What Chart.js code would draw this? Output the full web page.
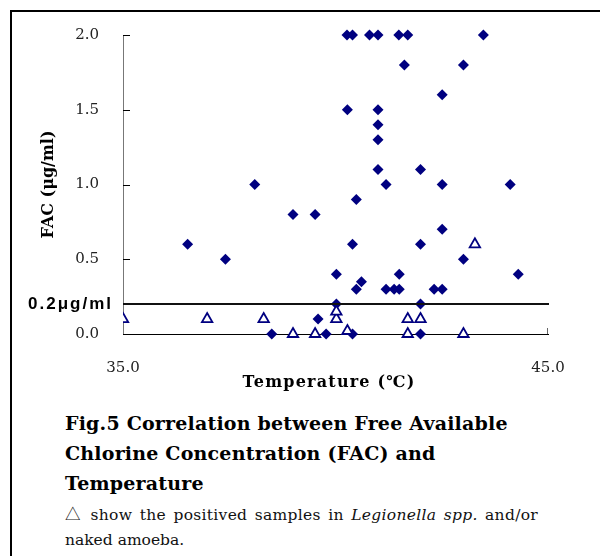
<!DOCTYPE html>
<html>
<head>
<meta charset="utf-8">
<script src="https://cdn.jsdelivr.net/npm/chart.js@4.4.1/dist/chart.umd.min.js"></script>
<style>
  body { margin: 0; background: #fff; }
  #page { position: relative; width: 600px; height: 556px; overflow: hidden; }
  #frame { position: absolute; left: 10px; top: 10px; right: -10px; bottom: -10px;
           border-left: 2px solid #000; border-top: 2px solid #000; }
  #c { position: absolute; left: 0; top: 0; }
  .cap { position: absolute; left: 65px; font-family: 'DejaVu Serif', serif; color: #000; white-space: nowrap; }
  .bold { font-weight: bold; font-size: 19px; line-height: 22px; letter-spacing: 0.2px; }
  .note { font-size: 15.5px; line-height: 18px; color: #111; }
  .just { width: 473px; white-space: normal; text-align: justify; text-align-last: justify; letter-spacing: 0.3px; }
  .tri { font-family: 'Noto Sans CJK JP', sans-serif; }
</style>
</head>
<body>
<div id="page">
  <div id="frame"></div>
  <canvas id="c" width="600" height="400"></canvas>
  <div class="cap bold" style="top:412px">Fig.5 Correlation between Free Available</div>
  <div class="cap bold" style="top:442px">Chlorine Concentration (FAC) and</div>
  <div class="cap bold" style="top:472px">Temperature</div>
  <div class="cap note just" style="top:504px"><span class="tri">△</span> show the positived samples in <i>Legionella spp.</i> and/or</div>
  <div class="cap note" style="top:531px">naked amoeba.</div>
</div>
<script>
//.. samples without Legionella / amoeba (filled diamonds)
const negTemp = [40.27, 40.40, 40.80, 41.00, 41.49, 41.70, 43.48,
                 41.62, 43.01, 42.51, 40.28, 41.00, 41.00, 41.00, 41.00, 42.00,
                 38.10, 41.19, 42.51, 44.11, 40.49, 39.00, 39.52, 42.51,
                 36.52, 40.40, 42.00, 37.41, 43.01, 40.02, 41.50, 44.30, 40.61,
                 40.49, 41.19, 41.38, 41.50, 42.32, 42.51, 40.02, 42.00, 39.59,
                 38.50, 39.78, 40.40, 42.00];
const negFac = [2.0, 2.0, 2.0, 2.0, 2.0, 2.0, 2.0,
                1.8, 1.8, 1.6, 1.5, 1.5, 1.4, 1.3, 1.1, 1.1,
                1.0, 1.0, 1.0, 1.0, 0.9, 0.8, 0.8, 0.7,
                0.6, 0.6, 0.6, 0.5, 0.5, 0.4, 0.4, 0.4, 0.35,
                0.3, 0.3, 0.3, 0.3, 0.3, 0.3, 0.2, 0.2, 0.1,
                0.0, 0.0, 0.0, 0.0];

//.. positive samples (open triangles)
const posTemp = [35.00, 36.98, 38.31, 40.02, 41.70, 42.00, 40.02, 39.00, 39.52, 41.70, 43.01, 40.28, 43.28];
const posFac  = [0.1, 0.1, 0.1, 0.1, 0.1, 0.1, 0.15, 0.0, 0.0, 0.0, 0.0, 0.02, 0.6];

const xTicks = [35, 45];
const yTicks = [0, 0.5, 1.0, 1.5, 2.0];
const limitValue = 0.2;
const limitLabel = '0.2μg/ml';
const xTitle = 'Temperature (℃)';

function toPoints(xs, ys) {
    return xs.map(function (x, i) { return {x: x, y: ys[i]}; });
}

//.. draws the 0.2 line, its label, the x title and the inward tick marks
const extras = {
    id: 'extras',
    afterDatasetsDraw: function (chart) {
        const ctx = chart.ctx;
        const xs = chart.scales.x, ys = chart.scales.y;
        const area = chart.chartArea;
        ctx.save();
        ctx.strokeStyle = '#000';
        ctx.lineWidth = 1;
        yTicks.forEach(function (v) {
            const py = Math.round(ys.getPixelForValue(v)) + 0.5;
            ctx.beginPath();
            ctx.moveTo(area.left, py);
            ctx.lineTo(area.left + 7, py);
            ctx.stroke();
        });
        const px = Math.round(xs.getPixelForValue(xTicks[1])) - 0.5;
        ctx.strokeStyle = '#666';
        ctx.beginPath();
        ctx.moveTo(px, area.bottom);
        ctx.lineTo(px, area.bottom - 6);
        ctx.stroke();

        const ly = ys.getPixelForValue(limitValue);
        ctx.strokeStyle = '#111';
        ctx.lineWidth = 2;
        ctx.beginPath();
        ctx.moveTo(area.left, ly);
        ctx.lineTo(area.right + 1, ly);
        ctx.stroke();

        ctx.fillStyle = '#000';
        ctx.textBaseline = 'middle';
        ctx.letterSpacing = '2px';
        ctx.font = 'bold 17px "Liberation Sans", Arial, sans-serif';
        ctx.textAlign = 'right';
        ctx.fillText(limitLabel, 113, ly);

        ctx.letterSpacing = '1.2px';
        ctx.font = 'bold 16px "DejaVu Serif", serif';
        ctx.textAlign = 'center';
        ctx.fillText(xTitle, 329, 383);
        ctx.restore();
    }
};

const ctx = document.getElementById('c').getContext('2d');
new Chart(ctx, {
    type: 'scatter',
    data: {
        datasets: [{
            label: 'positive',
            data: toPoints(posTemp, posFac),
            pointStyle: 'triangle',
            radius: 6,
            borderWidth: 1.8,
            borderColor: '#000080',
            backgroundColor: '#fff',
            clip: {left: 0, top: 20, right: 20, bottom: 20}
        }, {
            label: 'negative',
            data: toPoints(negTemp, negFac),
            pointStyle: 'rectRot',
            radius: 5.5,
            borderWidth: 0,
            borderColor: '#000080',
            backgroundColor: '#000080',
            clip: {left: 0, top: 20, right: 20, bottom: 20}
        }]
    },
    options: {
        responsive: false,
        animation: false,
        layout: {padding: {left: 33, top: 35, right: 52, bottom: 0}},
        plugins: {legend: {display: false}, tooltip: {enabled: false}},
        scales: {
            x: {
                type: 'linear', min: 35, max: 45,
                afterFit: function (s) { s.height = 66; },
                afterBuildTicks: function (s) { s.ticks = xTicks.map(function (v) { return {value: v}; }); },
                grid: {display: false, drawTicks: false},
                border: {display: true, color: '#000', width: 1},
                ticks: {padding: 25, color: '#222', maxRotation: 0,
                        font: {family: 'DejaVu Serif', size: 15},
                        callback: function (v) { return v.toFixed(1); }}
            },
            y: {
                type: 'linear', min: 0, max: 2,
                afterFit: function (s) { s.width = 90; },
                afterBuildTicks: function (s) { s.ticks = yTicks.map(function (v) { return {value: v}; }); },
                grid: {display: false, drawTicks: false},
                border: {display: true, color: '#777', width: 1},
                ticks: {padding: 24, color: '#222',
                        font: {family: 'DejaVu Serif', size: 15},
                        callback: function (v) { return v.toFixed(1); }},
                title: {display: true, text: 'FAC (μg/ml)', color: '#000',
                        padding: {top: 6, bottom: 0},
                        font: {family: 'DejaVu Serif', size: 16, weight: 'bold'}}
            }
        }
    },
    plugins: [extras]
});
</script>
</body>
</html>
